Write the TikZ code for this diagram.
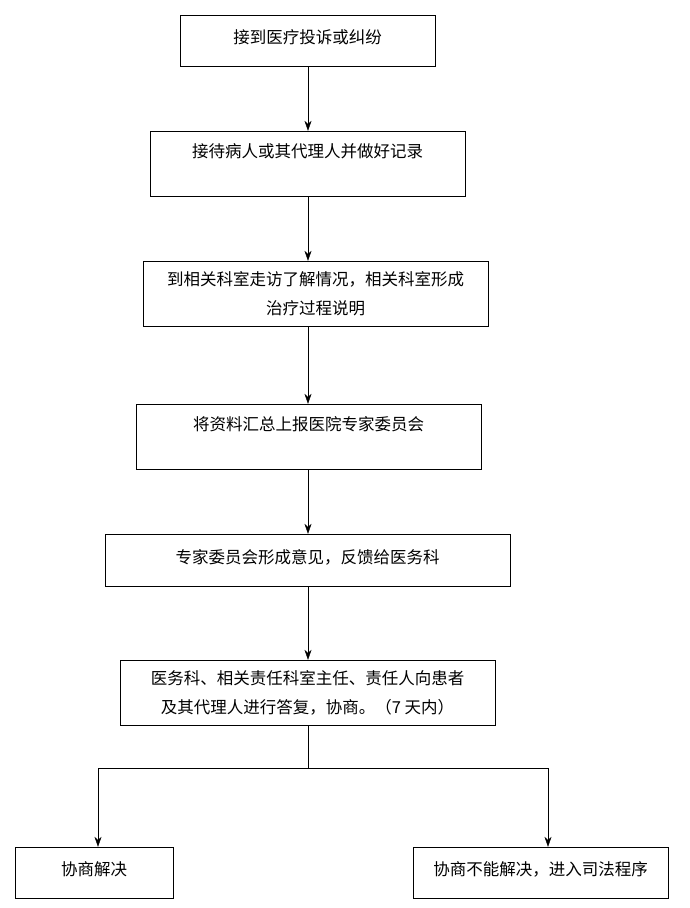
\documentclass[tikz,border=0pt]{standalone}
\usepackage{fontspec}
\newfontfamily\cjk{Noto Sans CJK SC}
\usetikzlibrary{arrows.meta}
\tikzset{box/.style={draw,rectangle,inner sep=0pt,align=center,font=\cjk\fontsize{16.5}{29}\selectfont}}
\begin{document}
\begin{tikzpicture}[x=1pt,y=-1pt,>={Stealth[length=10pt,width=7pt]}]
\useasboundingbox (0,0) rectangle (689,908);
\node[box,minimum width=255,minimum height=51,text depth=8pt] (a) at (307.5,40.5){接到医疗投诉或纠纷};
\node[box,minimum width=315,minimum height=65,text depth=26pt] (b) at (307.5,163.5){接待病人或其代理人并做好记录};
\node[box,minimum width=345,minimum height=65] (c) at (315.5,293.5){到相关科室走访了解情况，相关科室形成\\治疗过程说明};
\node[box,minimum width=345,minimum height=65,text depth=26pt] (d) at (308.5,436.5){将资料汇总上报医院专家委员会};
\node[box,minimum width=405,minimum height=52,text depth=8pt] (e) at (307.5,560){专家委员会形成意见，反馈给医务科};
\node[box,minimum width=375,minimum height=65] (f) at (307.5,692.5){医务科、相关责任科室主任、责任人向患者\\及其代理人进行答复，协商。（7 天内）};
\node[box,minimum width=158,minimum height=51,text depth=8pt] (g) at (94,872.5){协商解决};
\node[box,minimum width=255,minimum height=51,text depth=8pt] (h) at (540.5,872.5){协商不能解决，进入司法程序};
\coordinate (s) at (308,768);
\draw[->](308,66) -- (b.north-|308,0);
\draw[->](b.south-|308,0) -- (c.north-|308,0);
\draw[->](c.south-|308,0) -- (d.north-|308,0);
\draw[->](d.south-|308,0) -- (e.north-|308,0);
\draw[->](e.south-|308,0) -- (f.north-|308,0);
\draw(f.south-|308,0) -- (s);
\draw[->](98,768) -| (g.north-|98,0);
\draw(98,768) -- (548,768);
\draw[->](548,768) -- (h.north-|548,0);
\end{tikzpicture}
\end{document}
